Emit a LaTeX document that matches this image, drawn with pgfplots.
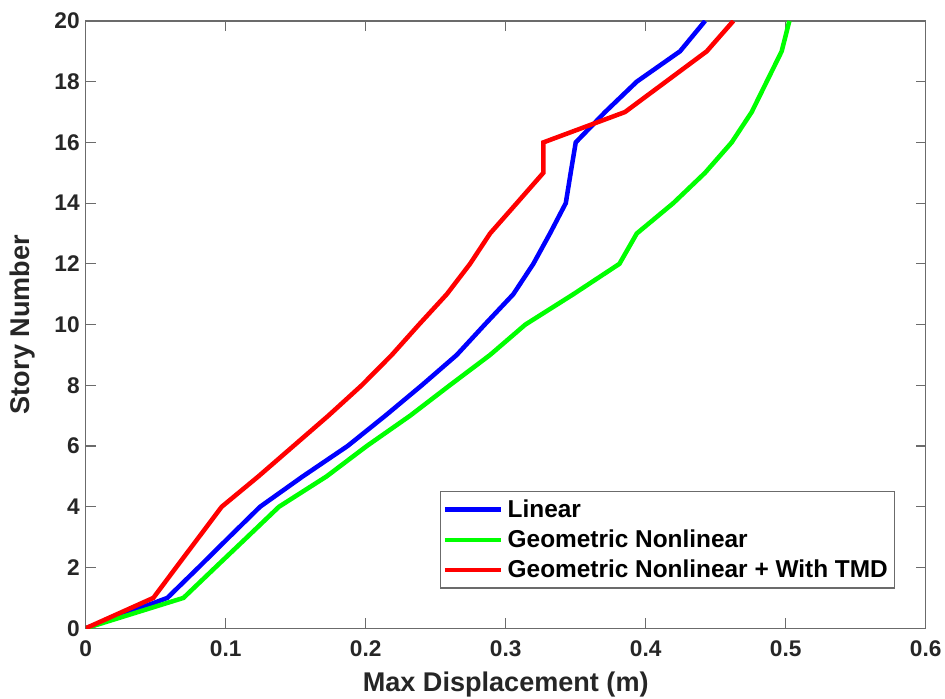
\documentclass[border=0pt]{standalone}
\usepackage{pgfplots}
\pgfplotsset{compat=1.18}
\usepackage{fontspec}
\setmainfont{Liberation Sans}
\definecolor{txt}{gray}{0.15}
\definecolor{axc}{gray}{0.42}
\begin{document}
\begin{tikzpicture}
\begin{axis}[
  scale only axis,
  width=630pt, height=455.5pt,
  xmin=0, xmax=0.6, ymin=0, ymax=20,
  xtick={0,0.1,0.2,0.3,0.4,0.5,0.6},
  ytick={0,2,4,6,8,10,12,14,16,18,20},
  tick align=inside,
  major tick length=7.5pt,
  axis line style={axc, line width=0.9pt},
  tick style={axc, line width=0.9pt},
  /pgf/number format/assume math mode=true,
  ticklabel style={font=\fontsize{17}{17}\selectfont\bfseries, text=txt},
  xticklabel style={yshift=-6pt},
  yticklabel style={xshift=-1pt},
  every axis x label/.style={at={(rel axis cs:0.5,0)}, anchor=base, yshift=-47.5pt},
  every axis y label/.style={at={(axis description cs:-0.0757,0.5)}, anchor=center, rotate=90},
  label style={font=\fontsize{20.3}{20.3}\selectfont\bfseries, text=txt},
  xlabel={Max Displacement (m)},
  ylabel={Story Number},
  legend cell align=left,
  legend style={at={(0.9635,0.226)}, anchor=north east, draw=axc, line width=0.9pt,
    font=\fontsize{18.3}{18.3}\selectfont\bfseries, text=black,
    inner xsep=1.5pt, inner ysep=5pt, row sep=6pt,
    nodes={inner ysep=1pt, inner xsep=3.5pt}},
  legend image code/.code={\path (0pt,0pt) -- (42pt,0pt);\draw[#1] (1.5pt,0pt) -- (40.5pt,0pt);},
  every axis plot/.append style={line width=3.4pt, line join=miter},
]
\addplot[color=blue] coordinates {
(0,0) (0.0583,1) (0.0805,2) (0.1024,3) (0.1245,4) (0.1550,5) (0.1870,6) (0.2140,7)
(0.2400,8) (0.2650,9) (0.2850,10) (0.3054,11) (0.3197,12) (0.3316,13) (0.3429,14)
(0.3464,15) (0.3500,16) (0.3710,17) (0.3936,18) (0.4245,19) (0.4424,20)};
\addlegendentry{Linear}
\addplot[color=green] coordinates {
(0,0) (0.0698,1) (0.0925,2) (0.1153,3) (0.1380,4) (0.1720,5) (0.2007,6) (0.2317,7)
(0.2600,8) (0.2888,9) (0.3140,10) (0.3483,11) (0.3812,12) (0.3936,13) (0.4197,14)
(0.4424,15) (0.4614,16) (0.4757,17) (0.4864,18) (0.4971,19) (0.5026,20)};
\addlegendentry{Geometric Nonlinear}
\addplot[color=red] coordinates {
(0,0) (0.0483,1) (0.0645,2) (0.0808,3) (0.0971,4) (0.1233,5) (0.1483,6) (0.1733,7)
(0.1971,8) (0.2186,9) (0.2380,10) (0.2579,11) (0.2745,12) (0.2888,13) (0.3079,14)
(0.3269,15) (0.3269,16) (0.3852,17) (0.4144,18) (0.4436,19) (0.4626,20)};
\addlegendentry{Geometric Nonlinear + With TMD}
\end{axis}
\pgfresetboundingbox
\path[use as bounding box] (-64.3pt,-53pt) rectangle (644.45pt,471.2pt);
\end{tikzpicture}
\end{document}
